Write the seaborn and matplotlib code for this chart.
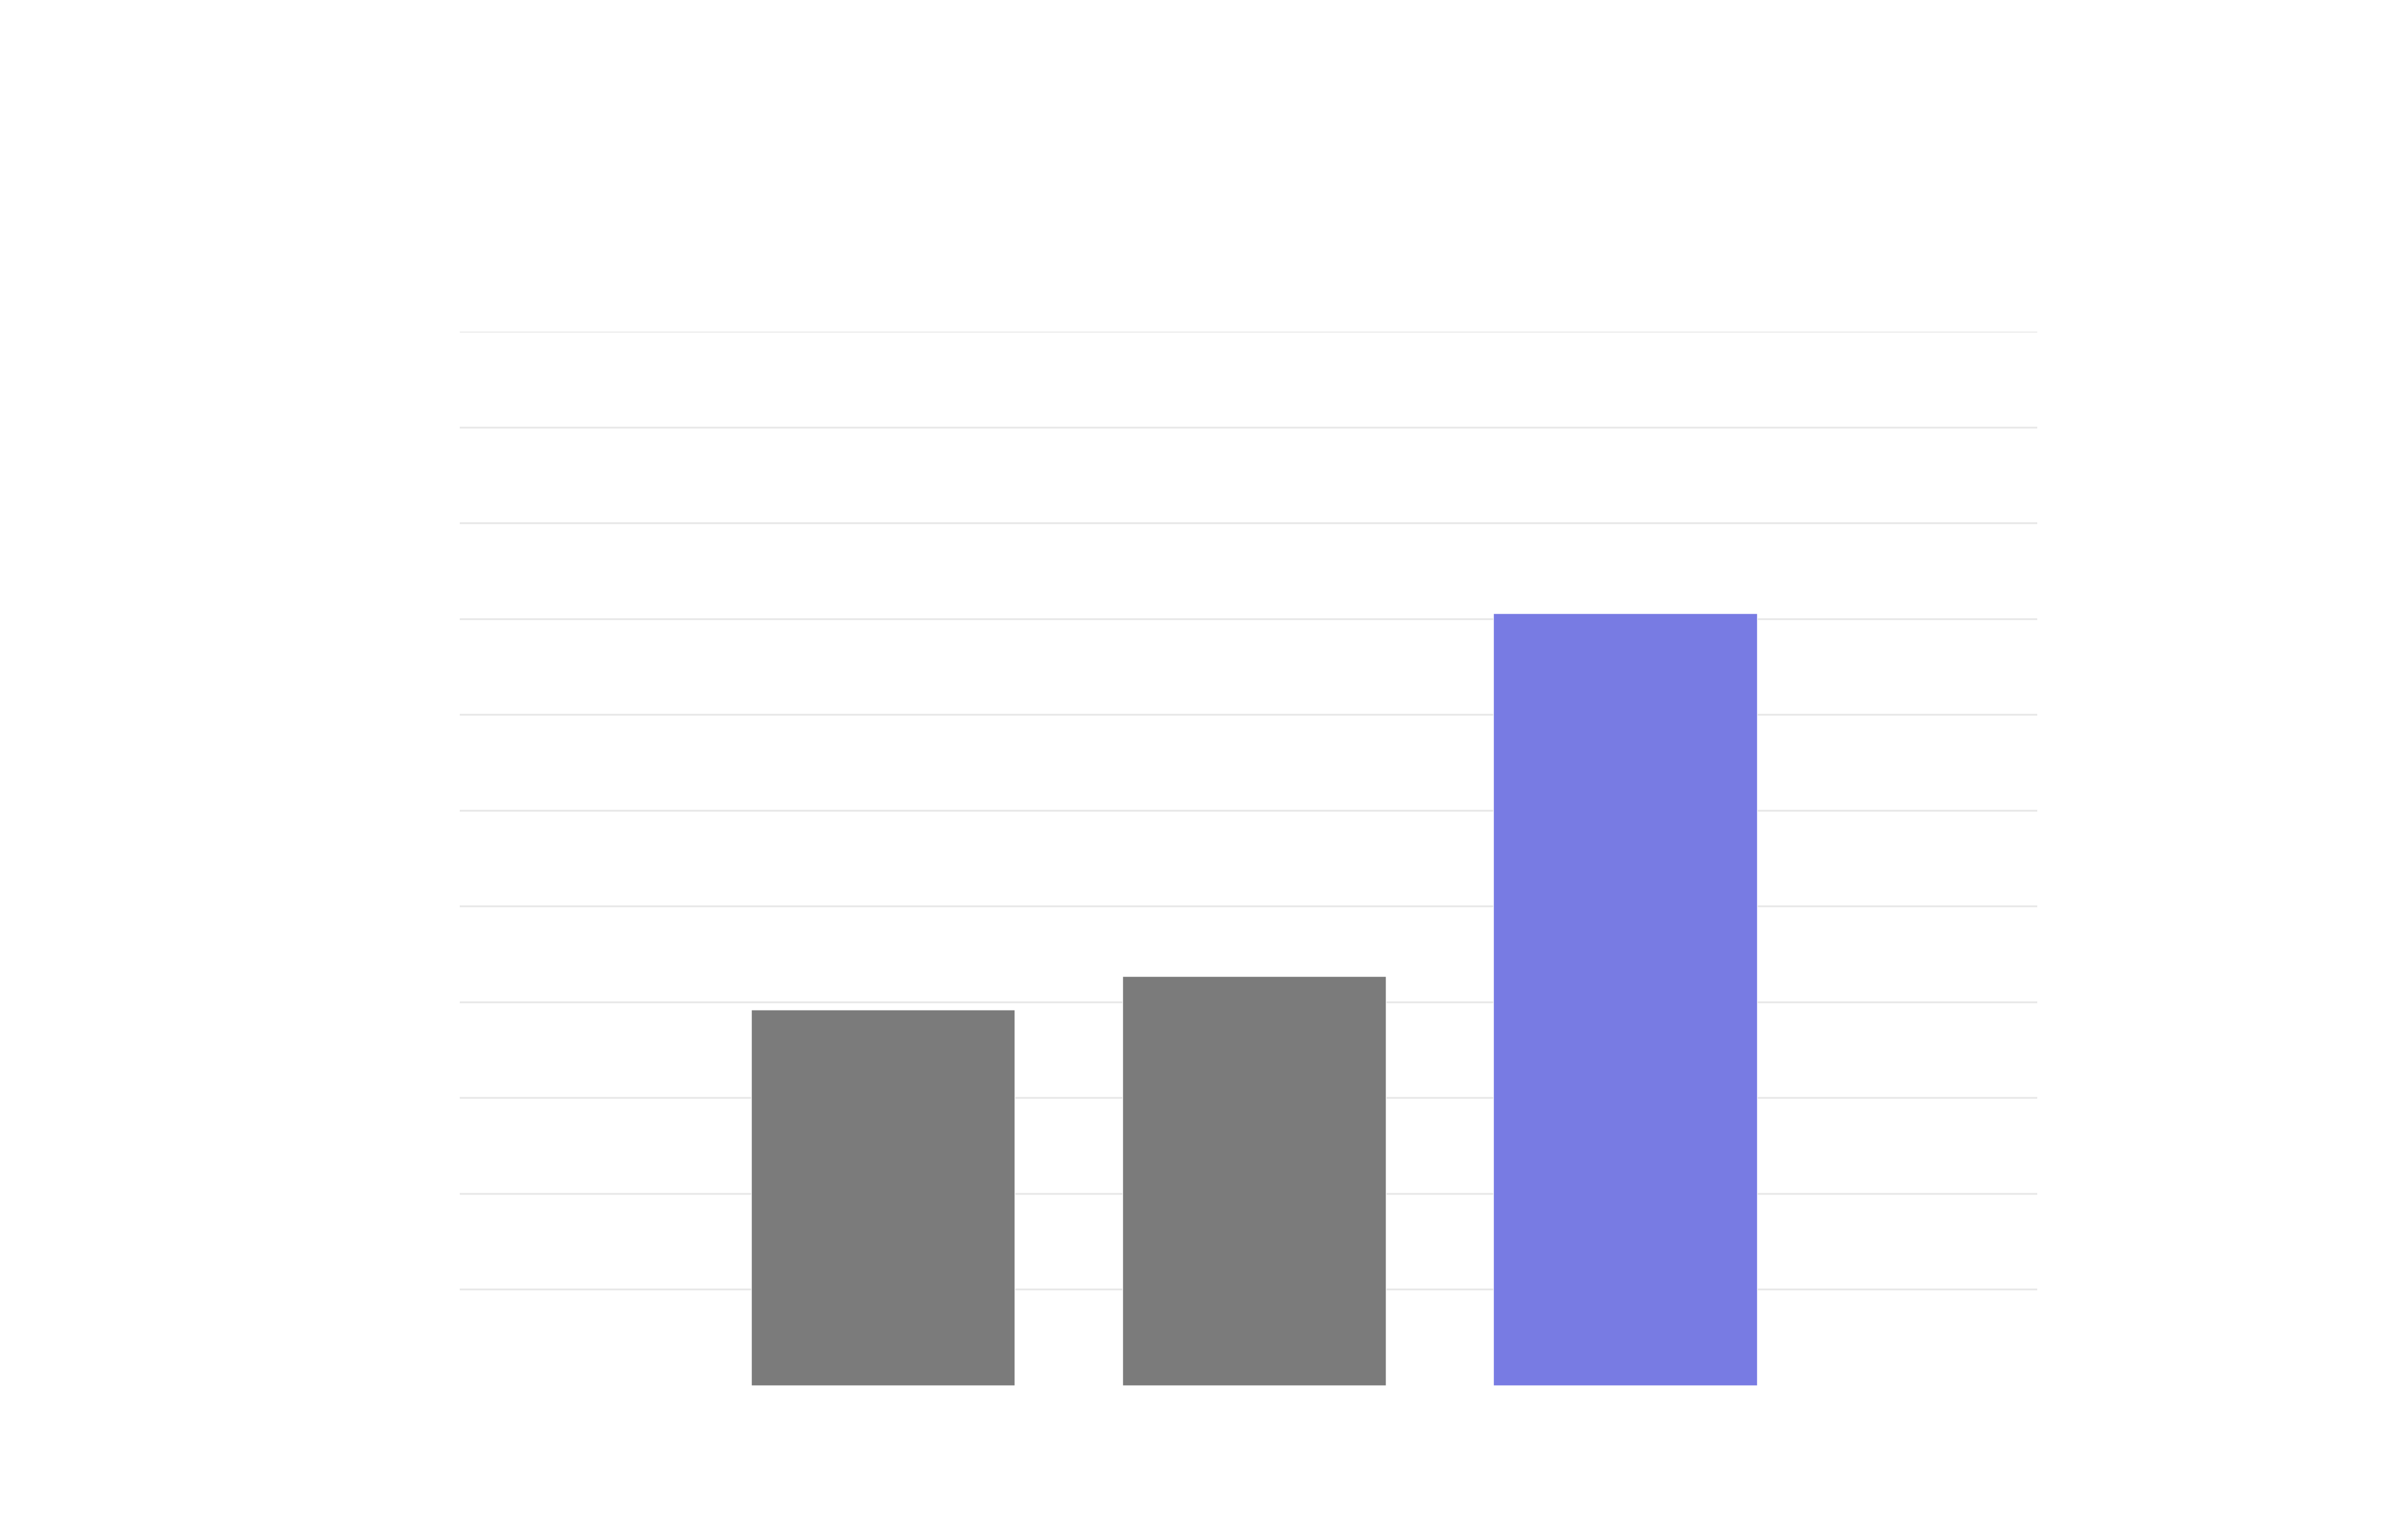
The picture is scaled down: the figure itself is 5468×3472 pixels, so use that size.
import matplotlib
matplotlib.use("Agg")
import matplotlib.pyplot as plt
import seaborn as sns
import pandas as pd

categories = ["A", "B", "C"]
values = [3.92, 4.27, 8.06]
colors = ["#7b7b7b", "#7b7b7b", "#787be3"]

sns.set_style("white")
fig = plt.figure(figsize=(54.68, 34.72), dpi=100)
ax = fig.add_axes([0.191, 0.094, 0.655, 0.689])

df = pd.DataFrame({"cat": categories, "val": values})
sns.barplot(data=df, x="cat", y="val", hue="cat", palette=colors,
            width=0.71, legend=False, ax=ax, zorder=3, saturation=1)

ax.set_ylim(0, 11)
ax.set_xlim(-1.14, 3.11)
ax.set_yticks(range(1, 12))
ax.yaxis.grid(True, color="#e8e8e8", linewidth=3)
ax.set_axisbelow(True)
ax.tick_params(left=False, bottom=False, labelleft=False, labelbottom=False)
ax.set_xlabel("")
ax.set_ylabel("")
for s in ax.spines.values():
    s.set_visible(False)

fig.savefig("out.png", dpi=100, facecolor="white")
